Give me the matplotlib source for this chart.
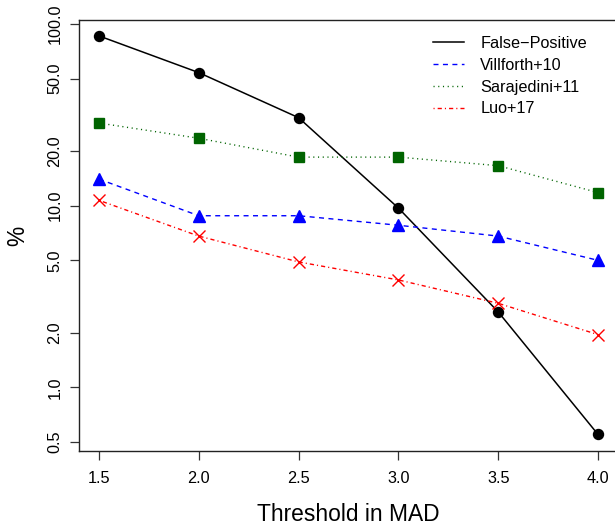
import matplotlib
matplotlib.use("Agg")
import matplotlib.pyplot as plt
from matplotlib.lines import Line2D
from matplotlib.ticker import FixedLocator, FormatStrFormatter, NullLocator

# data
thresholds = [1.5, 2.0, 2.5, 3.0, 3.5, 4.0]
false_positive = [86.0, 54.0, 30.5, 9.7, 2.6, 0.55]
villforth10 = [14.0, 8.8, 8.8, 7.8, 6.8, 5.0]
sarajedini11 = [28.5, 23.5, 18.5, 18.5, 16.6, 11.8]
luo17 = [10.7, 6.8, 4.9, 3.9, 2.9, 1.95]

y_ticks = [0.5, 1.0, 2.0, 5.0, 10.0, 20.0, 50.0, 100.0]
x_ticks = [1.5, 2.0, 2.5, 3.0, 3.5, 4.0]

plt.rcParams["font.family"] = ["Liberation Sans", "DejaVu Sans"]

W, H = 615, 529
fig = plt.figure(figsize=(W / 100, H / 100), dpi=100)
# plot region like R's base graphics (right edge runs just off the canvas)
ax = fig.add_axes([79 / W, (H - 451) / H, 539 / W, 431 / H])

styles = [
    dict(color="black", lw=1.1, ls="-"),
    dict(color="blue", lw=1.0, ls=(0, (3.6, 3.2))),
    dict(color="#006400", lw=1.0, ls=(0, (0.8, 2.6))),
    dict(color="red", lw=1.0, ls=(0, (0.8, 2.2, 3.0, 2.2))),
]
labels = ["False\u2212Positive", "Villforth+10", "Sarajedini+11", "Luo+17"]

ax.plot(thresholds, false_positive, **styles[0],
        marker="o", ms=7.2, mec="black", mfc="black")
ax.plot(thresholds, villforth10, **styles[1],
        marker="^", ms=8.5, mec="blue", mfc="blue")
ax.plot(thresholds, sarajedini11, **styles[2],
        marker="s", ms=7.0, mec="#006400", mfc="#006400")
ax.plot(thresholds, luo17, **styles[3],
        marker="x", ms=8.5, mew=1.0, mec="red")

ax.set_yscale("log")
ax.set_xlim(1.4, 4.1)
ax.set_ylim(0.446, 105.2)

ax.yaxis.set_major_locator(FixedLocator(y_ticks))
ax.yaxis.set_minor_locator(NullLocator())
ax.yaxis.set_major_formatter(FormatStrFormatter("%.1f"))
ax.set_xticks(x_ticks)
ax.xaxis.set_major_formatter(FormatStrFormatter("%.1f"))

ax.tick_params(axis="both", direction="out", length=6.5, width=0.9,
               labelsize=11.7, color="#333333")
ax.tick_params(axis="y", pad=5.5)
ax.tick_params(axis="x", pad=8)
for lab in ax.get_yticklabels():
    lab.set_rotation(90)
    lab.set_va("center")

for sp in ax.spines.values():
    sp.set_linewidth(1.0)
    sp.set_color("#222222")

ax.set_xlabel("Threshold in MAD", fontsize=16.4, labelpad=12)
ax.set_ylabel("%", fontsize=16.4, labelpad=13)

# legend lines only, no markers, no frame
leg_lines = [Line2D([], [], **st) for st in styles]
ax.legend(leg_lines, labels, loc="upper left", frameon=False, fontsize=11.7,
          bbox_to_anchor=(433 / W, 1 - 36 / H), bbox_transform=fig.transFigure,
          borderpad=0, borderaxespad=0, handlelength=1.9, handletextpad=1.0,
          labelspacing=0.42)

fig.savefig("out.png", dpi=100)
